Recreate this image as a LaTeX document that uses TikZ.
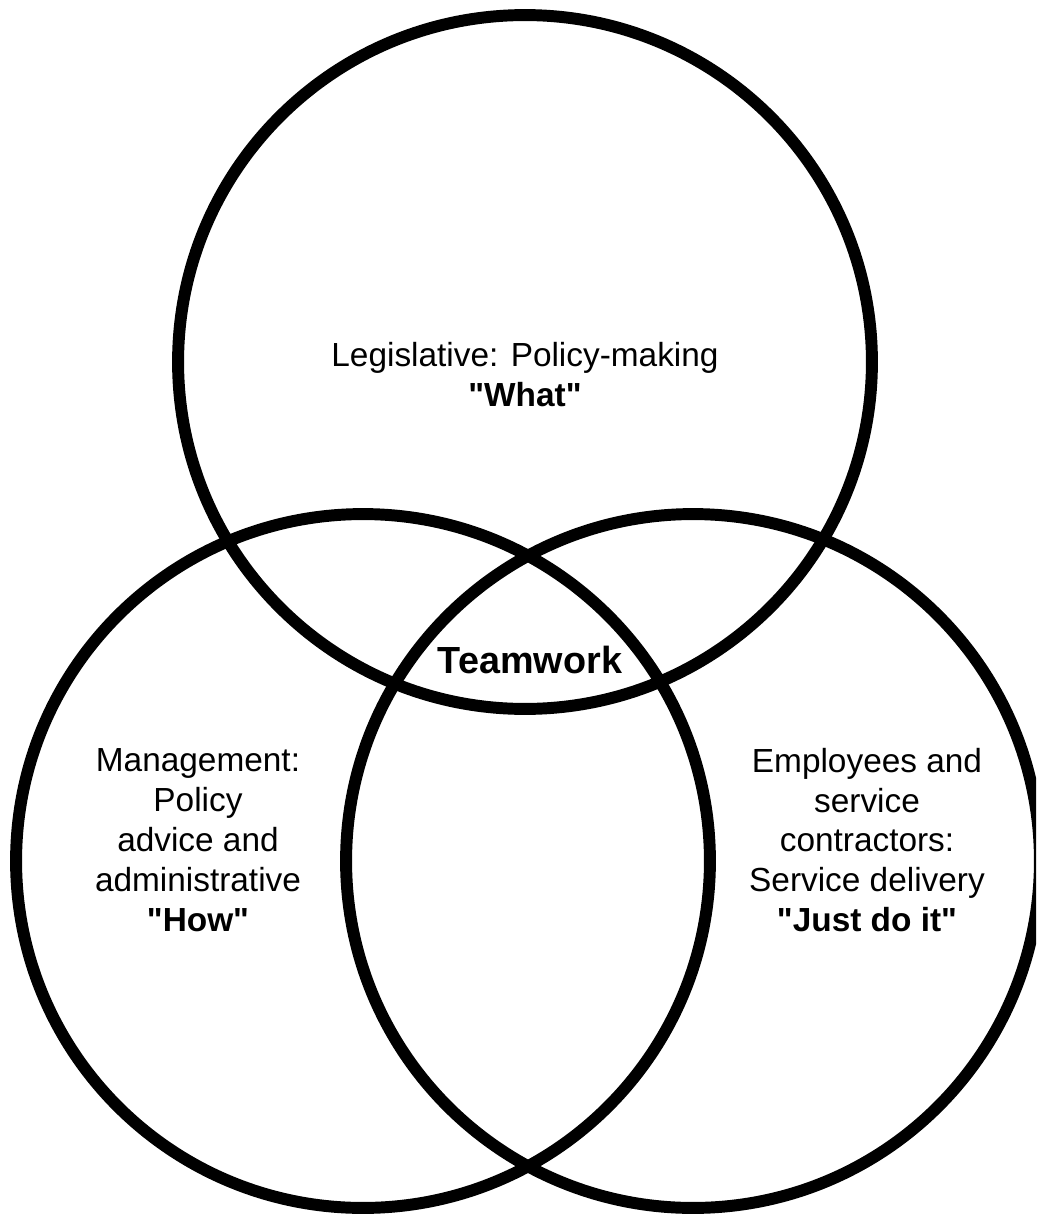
\documentclass[tikz,border=0pt]{standalone}
\usepackage{fontspec}
\setmainfont{Liberation Sans}[Ligatures=TeXOff]
\begin{document}
\begin{tikzpicture}[x=0.02cm,y=-0.02cm,
  ring/.style={draw, circle, line width=6.8pt, minimum size=13.88cm, inner sep=0pt},
  lbl/.style={align=center, font=\fontsize{19}{22.7}\selectfont}]
\useasboundingbox (0,0) rectangle (1036,1214);
\begin{scope}
\clip (0,0) rectangle (1036,1214);
\node[ring] (legis) at (525,362) {};
\node[ring] (mgmt) at (363,861) {};
\node[ring] (staff) at (693,861) {};
\end{scope}

\node[lbl] (what) at (525,375) {Legislative: Policy-making\\\textbf{"What"}};
\node[lbl, font=\fontsize{21.5}{25}\selectfont\bfseries] (team) at (530,660) {Teamwork};
\node[lbl] (how) at (198,840) {Management:\\Policy\\advice and\\administrative\\\textbf{"How"}};
\node[lbl] (doit) at (867,840) {Employees and\\service\\contractors:\\Service delivery\\\textbf{"Just do it"}};
\end{tikzpicture}
\end{document}
